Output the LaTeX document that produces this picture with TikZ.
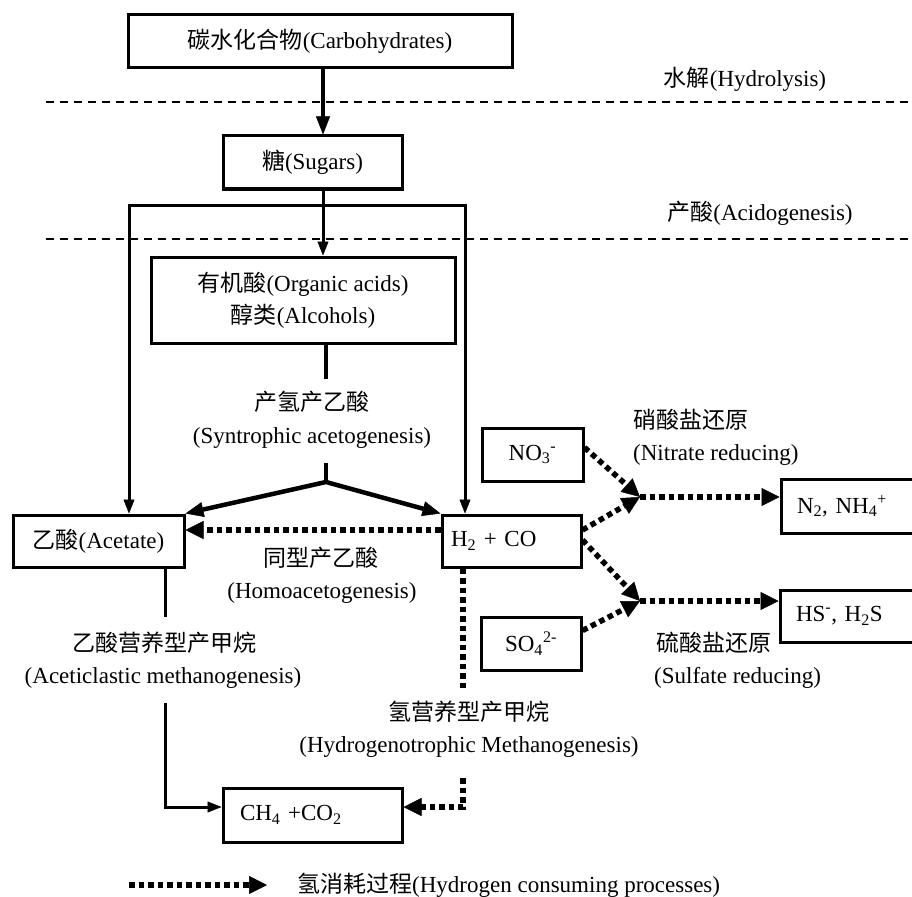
\documentclass[tikz,border=0pt]{standalone}
\usepackage{fontspec}
\setmainfont{Liberation Serif}
\newfontfamily\cjk{Noto Sans CJK SC}
\usetikzlibrary{arrows.meta}
\newcommand{\zhtxt}[1]{{\cjk #1}}

\begin{document}
\begin{tikzpicture}[x=1pt,y=-1pt,
  every node/.style={font=\fontsize{23}{28}\selectfont, inner sep=0pt},
  box/.style={draw, line width=3pt, inner sep=0pt},
  sepline/.style={line width=1.4pt, dash pattern=on 8pt off 6pt},
  solidln/.style={line width=3pt, line join=miter},
  heavyln/.style={line width=4.5pt, line join=miter},
  hdot/.style={line width=5.5pt, dash pattern=on 5.5pt off 4pt},
  tipS/.style={-{Triangle[length=14pt,width=11pt,line width=0.5pt]}},
  tipSS/.style={{Triangle[length=14pt,width=11pt,line width=0.5pt]}-{Triangle[length=14pt,width=11pt,line width=0.5pt]}},
  tipB/.style={-{Triangle[length=18pt,width=14pt,line width=0.5pt]}},
  tipV/.style={{Triangle[length=18pt,width=15pt,line width=0.5pt]}-{Triangle[length=18pt,width=15pt,line width=0.5pt]}},
  tipD/.style={-{Triangle[length=18pt,width=18pt,line width=0.5pt]}}
]
\useasboundingbox (0,0) rectangle (912,896);
\fill[white] (0,0) rectangle (912,896);
\clip (0,0) rectangle (912,896);

% stage separators
\draw[sepline] (46,102) -- (912,102);
\draw[sepline] (46,239) -- (912,239);

% boxes
\node[box, minimum width=384pt, minimum height=53pt] (carb) at (320,41.5) {\zhtxt{碳水化合物}(Carbohydrates)};
\node[box, minimum width=179pt, minimum height=53pt] (sugar) at (312.5,162.5) {\zhtxt{糖}(Sugars)};
\node[box, minimum width=304pt, minimum height=86pt, align=center, font=\fontsize{23}{32}\selectfont] (org) at (303,300) {\zhtxt{有机酸}(Organic acids)\\\zhtxt{醇类}(Alcohols)};
\node[box, minimum width=171pt, minimum height=52pt] (acet) at (98.5,541) {\zhtxt{乙酸}(Acetate)};
\node[box, minimum width=139pt, minimum height=52pt, text width=121pt, align=left] (h2) at (511.5,541) {H\textsubscript{2} + CO};
\node[box, minimum width=101pt, minimum height=53pt] (no3) at (532.5,454.5) {NO\textsubscript{3}\textsuperscript{-}};
\node[box, minimum width=100pt, minimum height=53pt] (so4) at (531,643.5) {SO\textsubscript{4}\textsuperscript{2-}};
\node[box, minimum width=160pt, minimum height=54pt, text width=128pt, align=left] (n2) at (861,506) {N\textsubscript{2}, NH\textsubscript{4}\textsuperscript{+}};
\node[box, minimum width=160pt, minimum height=52pt, text width=128pt, align=left] (hs) at (860,616) {HS\textsuperscript{-}, H\textsubscript{2}S};
\node[box, minimum width=179pt, minimum height=54pt, text width=145pt, align=left] (ch4) at (312.5,815) {CH\textsubscript{4} +CO\textsubscript{2}};

% process labels
\node (hydro) at (745,79) {\zhtxt{水解}(Hydrolysis)};
\node (acido) at (760,213) {\zhtxt{产酸}(Acidogenesis)};
\node (syn1) at (312,402) {\zhtxt{产氢产乙酸}};
\node (syn2) at (312,438) {(Syntrophic acetogenesis)};
\node (homo1) at (321,558) {\zhtxt{同型产乙酸}};
\node (homo2) at (322,593) {(Homoacetogenesis)};
\node (acl1) at (164,643) {\zhtxt{乙酸营养型产甲烷}};
\node (acl2) at (163,678) {(Aceticlastic methanogenesis)};
\node (hyd1) at (469,712) {\zhtxt{氢营养型产甲烷}};
\node (hyd2) at (469,747) {(Hydrogenotrophic Methanogenesis)};
\node[anchor=west] (nit1) at (633,420) {\zhtxt{硝酸盐还原}};
\node[anchor=west] (nit2) at (633,455) {(Nitrate reducing)};
\node[anchor=west] (sul1) at (656,643) {\zhtxt{硫酸盐还原}};
\node[anchor=west] (sul2) at (654,678) {(Sulfate reducing)};
\node[anchor=west] (legtxt) at (297,885) {\zhtxt{氢消耗过程}(Hydrogen consuming processes)};

% main spine
\coordinate (spine) at (323,0);
\draw[heavyln, tipB] (carb.south -| spine) -- (sugar.north -| spine);
\draw[solidln, tipS] (sugar.south -| spine) -- (org.north -| spine);

% acidogenesis branches
\coordinate (barL) at (129,205);
\coordinate (barR) at (465,205);
\draw[solidln, tipSS] (barL |- acet.north) -- (barL) -- (barR) -- (barR |- h2.north);

% syntrophic acetogenesis
\coordinate (stem) at (326,0);
\coordinate (vee) at (326,482);
\draw[heavyln] (org.south -| stem) -- ++(0,34);
\draw[heavyln] (vee) -- ++(0,-19);
\draw[heavyln, tipV] (acet.north east) -- (vee) -- (h2.north west);

% homoacetogenesis
\draw[hdot, tipD] ([yshift=11pt]h2.west) -- ([yshift=11pt]acet.east);

% aceticlastic methanogenesis
\coordinate (acx) at (165,0);
\coordinate (aresume) at (165,703);
\draw[solidln] (acet.south -| acx) -- ++(0,48);
\draw[solidln, tipS] (aresume) |- ([yshift=8pt]ch4.west);

% hydrogenotrophic methanogenesis
\coordinate (hx) at (463,0);
\coordinate (hresume) at (463,778);
\draw[hdot] (h2.south -| hx) -- ++(0,119);
\draw[hdot, tipD] (hresume) |- ([yshift=8pt]ch4.east);

% nitrate and sulfate reducing
\coordinate (nj) at (640,497);
\coordinate (sj) at (640,601);
\draw[hdot, tipD] ([yshift=7pt]no3.east) -- (nj);
\draw[hdot, tipD] ([yshift=11pt]h2.east) -- (nj);
\draw[hdot, tipD] ([yshift=1pt]h2.east) -- (sj);
\draw[hdot, tipD] ([yshift=13pt]so4.east) -- (sj);
\draw[hdot, tipD] (nj) -- (nj -| n2.west);
\draw[hdot, tipD] (sj) -- (sj -| hs.west);

% legend
\coordinate (legA) at (129,885);
\coordinate (legB) at (267,885);
\draw[hdot, tipD] (legA) -- (legB);
\end{tikzpicture}
\end{document}
